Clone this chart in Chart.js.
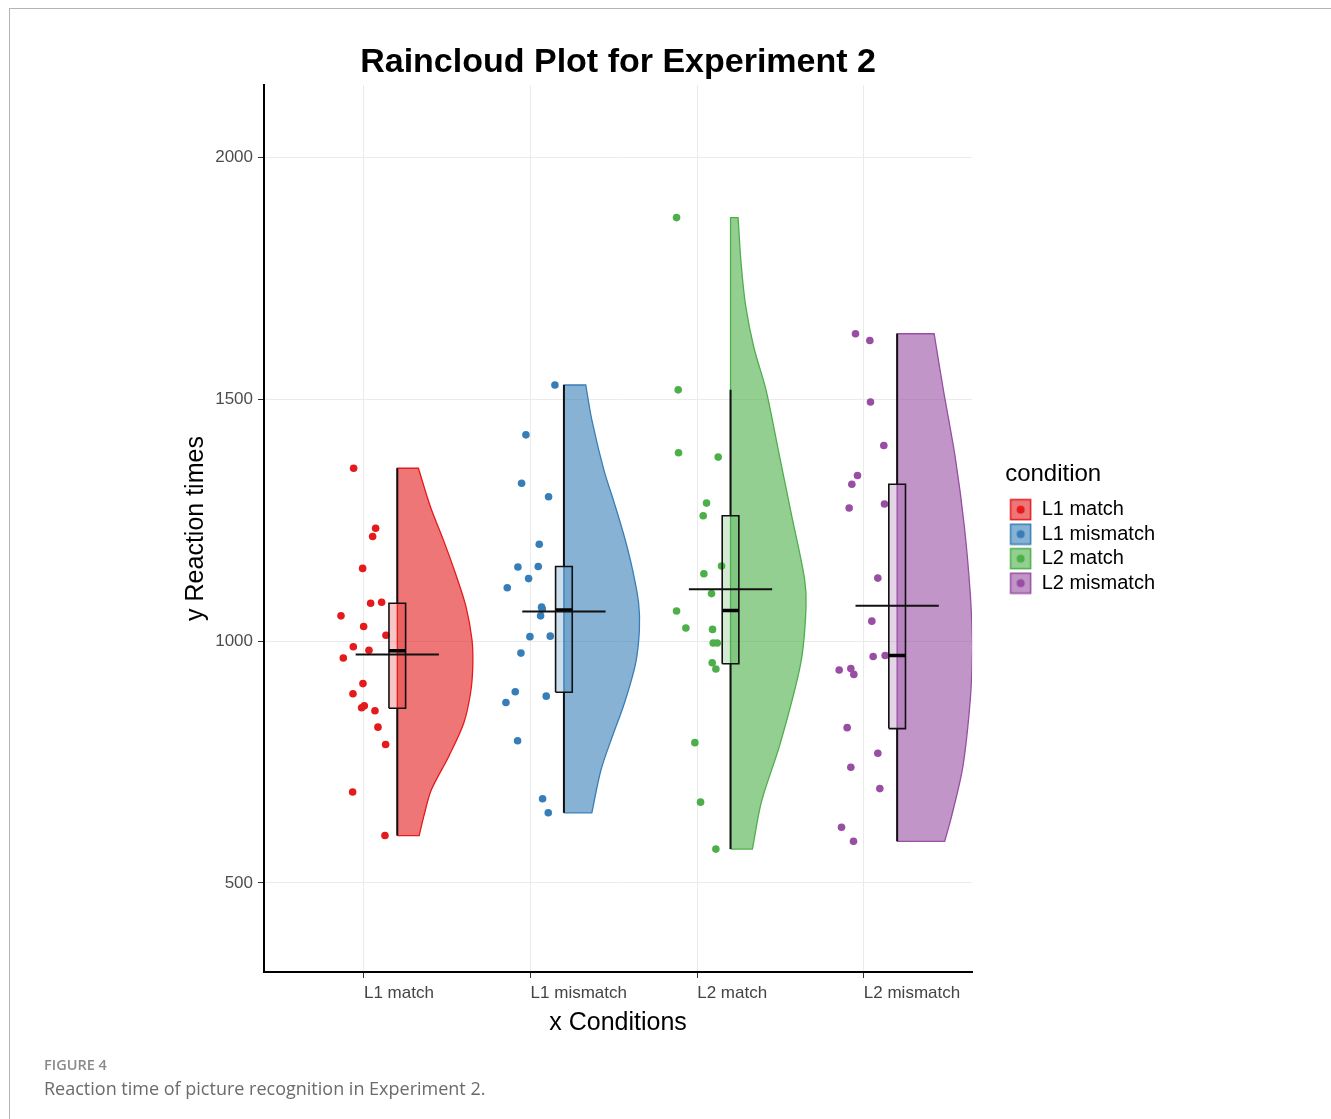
<!DOCTYPE html>
<html>
<head>
<meta charset="utf-8">
<title>Raincloud Plot for Experiment 2</title>
<script src="https://cdn.jsdelivr.net/npm/chart.js@4.4.1/dist/chart.umd.min.js"></script>
<style>
  html, body { margin: 0; padding: 0; background: #fff; }
  body { width: 1331px; height: 1119px; position: relative; overflow: hidden; }
  #wrap { position: absolute; left: 0; top: 0; width: 1331px; height: 1045px; }
  .frame { position: absolute; left: 9px; top: 8px; right: -4px; bottom: -4px;
           border-top: 1.5px solid #b4b4b4; border-left: 1.5px solid #b4b4b4; pointer-events: none; }
  .caption { position: absolute; left: 44px; top: 1054px; font-family: "Open Sans", "Noto Sans", sans-serif; }
  .fig-label { font-size: 14.5px; font-weight: 600; color: #8a8a8a; line-height: 21px; }
  .fig-text { font-size: 18px; color: #6b6b6b; line-height: 26px; }
</style>
</head>
<body>
<div id="wrap"><canvas id="raincloudChart" width="1331" height="1045"></canvas></div>
<div class="frame"></div>
<div class="caption">
  <div class="fig-label">FIGURE 4</div>
  <div class="fig-text">Reaction time of picture recognition in Experiment 2.</div>
</div>
<script>
  // Categories and colours
  const conditions = ['L1 match', 'L1 mismatch', 'L2 match', 'L2 mismatch'];
  const colors = ['#E41A1C', '#377EB8', '#4DAF4A', '#984EA3'];
  const yTicks = [500, 1000, 1500, 2000];

  // Raw reaction times (ms) and their horizontal jitter (category units)
  const l1MatchRT = [1357, 1233, 1216, 1150, 1078, 1080, 1052, 1030, 1012, 988, 981, 965, 912, 891, 862, 866, 856, 822, 786, 688, 598];
  const l1MatchJitter = [-0.062, 0.070, 0.052, -0.008, 0.040, 0.106, -0.138, -0.002, 0.132, -0.064, 0.030, -0.124, -0.006, -0.066, -0.014, 0.002, 0.066, 0.084, 0.130, -0.068, 0.126];
  const l1MismatchRT = [1529, 1426, 1326, 1298, 1200, 1153, 1154, 1129, 1110, 1070, 1066, 1052, 1009, 1010, 975, 895, 886, 873, 794, 674, 645];
  const l1MismatchJitter = [0.146, -0.028, -0.054, 0.108, 0.052, -0.076, 0.046, -0.012, -0.140, 0.066, 0.070, 0.060, -0.004, 0.118, -0.058, -0.092, 0.094, -0.148, -0.078, 0.072, 0.106];
  const l2MatchRT = [1875, 1519, 1389, 1380, 1285, 1259, 1155, 1139, 1098, 1062, 1027, 1024, 996, 996, 955, 942, 790, 667, 570];
  const l2MatchJitter = [-0.124, -0.114, -0.112, 0.126, 0.056, 0.036, 0.146, 0.040, 0.086, -0.124, -0.068, 0.092, 0.096, 0.120, 0.090, 0.112, -0.014, 0.020, 0.112];
  const l2MismatchRT = [1635, 1621, 1494, 1404, 1342, 1324, 1283, 1275, 1130, 1041, 968, 970, 940, 943, 931, 821, 768, 739, 695, 615, 586];
  const l2MismatchJitter = [-0.050, 0.036, 0.040, 0.120, -0.038, -0.072, 0.124, -0.088, 0.084, 0.048, 0.056, 0.128, -0.148, -0.078, -0.060, -0.100, 0.084, -0.078, 0.096, -0.134, -0.062];

  // Box plot summaries
  const q1 = [861, 894, 953, 819];
  const medians = [980, 1064, 1063, 970];
  const q3 = [1078, 1154, 1259, 1324];
  const means = [972, 1061, 1107, 1073];
  const whiskerLow = [598, 645, 570, 586];
  const whiskerHigh = [1357, 1529, 1519, 1635];

  // Half-violin density profiles (levels top -> bottom, density scaled to max 1)
  const l1MatchLevels = [1357, 1277, 1209, 1140, 1071, 1002, 947, 892, 830, 761, 692, 637, 598];
  const l1MatchDensity = [0.28, 0.44, 0.61, 0.77, 0.91, 0.99, 1.0, 0.97, 0.88, 0.68, 0.45, 0.35, 0.29];
  const l1MismatchLevels = [1529, 1457, 1353, 1284, 1216, 1147, 1078, 1023, 954, 871, 802, 733, 645];
  const l1MismatchDensity = [0.29, 0.37, 0.53, 0.67, 0.80, 0.91, 0.99, 1.0, 0.95, 0.80, 0.64, 0.49, 0.37];
  const l2MatchLevels = [1875, 1780, 1693, 1606, 1519, 1389, 1259, 1129, 1068, 954, 789, 668, 570];
  const l2MatchDensity = [0.10, 0.14, 0.20, 0.31, 0.47, 0.64, 0.81, 0.98, 1.0, 0.93, 0.66, 0.41, 0.29];
  const l2MismatchLevels = [1635, 1521, 1379, 1237, 1095, 988, 881, 740, 637, 586];
  const l2MismatchDensity = [0.49, 0.61, 0.77, 0.89, 0.97, 1.0, 0.97, 0.87, 0.72, 0.63];

  const rawRT = [l1MatchRT, l1MismatchRT, l2MatchRT, l2MismatchRT];
  const jitter = [l1MatchJitter, l1MismatchJitter, l2MatchJitter, l2MismatchJitter];
  const violinLevels = [l1MatchLevels, l1MismatchLevels, l2MatchLevels, l2MismatchLevels];
  const violinDensity = [l1MatchDensity, l1MismatchDensity, l2MatchDensity, l2MismatchDensity];

  // geometry (category units)
  const boxShift = 0.2, boxHalf = 0.05, meanHalf = 0.25, violinWidth = 0.453;
  const FONT = "'Liberation Sans', Arial, sans-serif";

  function rgba(hex, a) {
    const n = parseInt(hex.slice(1), 16);
    return `rgba(${n >> 16}, ${(n >> 8) & 255}, ${n & 255}, ${a})`;
  }

  // closed outline: flat left edge at cx, density curve on the right
  function violinShape(cx, levels, dens) {
    const last = levels.length - 1;
    const pts = [{x: cx, y: levels[last]}, {x: cx, y: levels[last]}];
    for (let k = last; k >= 0; k--) {
      const p = {x: cx + dens[k] * violinWidth, y: levels[k]};
      pts.push(p);
      if (k === last || k === 0) pts.push({x: p.x, y: p.y});
    }
    pts.push({x: cx, y: levels[0]}, {x: cx, y: levels[0]}, {x: cx, y: levels[last]});
    return pts;
  }

  function legendKey(color) {
    const c = document.createElement('canvas');
    c.width = 23; c.height = 23;
    const g = c.getContext('2d');
    g.fillStyle = rgba(color, 0.6);
    g.fillRect(1, 1, 21, 21);
    g.strokeStyle = color;
    g.lineWidth = 1.5;
    g.strokeRect(1.5, 1.5, 20, 20);
    g.beginPath();
    g.arc(11.5, 11.5, 4, 0, Math.PI * 2);
    g.fillStyle = color;
    g.fill();
    return c;
  }

  const datasets = [];
  conditions.forEach((name, i) => {
    const pos = i + 1, cx = pos + boxShift, col = colors[i];
    const base = {type: 'line', xAxisID: 'x', yAxisID: 'y', pointRadius: 0, tension: 0};
    datasets.push({...base, label: name + ' violin', data: violinShape(cx, violinLevels[i], violinDensity[i]),
      fill: 'shape', backgroundColor: rgba(col, 0.6), borderColor: col, borderWidth: 1.3, tension: 0.3, order: 10});
    datasets.push({type: 'scatter', xAxisID: 'x', yAxisID: 'y', label: name,
      data: rawRT[i].map((v, k) => ({x: pos + jitter[i][k], y: v})),
      pointRadius: 3.8, pointBackgroundColor: col, pointBorderWidth: 0, order: 8});
    datasets.push({...base, label: name + ' box', data: [
        {x: cx - boxHalf, y: q1[i]}, {x: cx + boxHalf, y: q1[i]}, {x: cx + boxHalf, y: q3[i]},
        {x: cx - boxHalf, y: q3[i]}, {x: cx - boxHalf, y: q1[i]}],
      fill: 'shape', backgroundColor: rgba(col, 0.25), borderColor: '#111', borderWidth: 1.6, order: 6});
    datasets.push({...base, label: name + ' whiskers', data: [
        {x: cx, y: whiskerLow[i]}, {x: cx, y: q1[i]}, {x: cx, y: null}, {x: cx, y: q3[i]}, {x: cx, y: whiskerHigh[i]}],
      borderColor: '#111', borderWidth: 2, fill: false, order: 5});
    datasets.push({...base, label: name + ' median', data: [{x: cx - boxHalf, y: medians[i]}, {x: cx + boxHalf, y: medians[i]}],
      borderColor: '#000', borderWidth: 3.5, fill: false, order: 4});
    datasets.push({...base, label: name + ' mean', data: [{x: cx - meanHalf, y: means[i]}, {x: cx + meanHalf, y: means[i]}],
      borderColor: '#111', borderWidth: 2, fill: false, order: 3});
  });

  new Chart(document.getElementById('raincloudChart'), {
    type: 'scatter',
    data: {datasets},
    options: {
      responsive: false,
      animation: false,
      layout: {padding: {left: 177, right: 166, top: 0, bottom: 3}},
      plugins: {
        tooltip: {enabled: false},
        title: {
          display: true,
          text: 'Raincloud Plot for Experiment 2',
          color: '#000',
          fullSize: false,
          font: {family: FONT, size: 34, weight: 'bold'},
          padding: {top: 42.6, bottom: 1.6}
        },
        legend: {
          position: 'right',
          align: 'center',
          onClick: null,
          title: {display: true, text: 'condition', color: '#000', position: 'start',
                  font: {family: FONT, size: 24}, padding: {top: 18, bottom: 4}},
          labels: {
            usePointStyle: true,
            pointStyleWidth: 22,
            padding: 4.5,
            color: '#000',
            font: {family: FONT, size: 20},
            generateLabels: () => conditions.map((c, i) => ({
              text: c, pointStyle: legendKey(colors[i]), fillStyle: colors[i],
              strokeStyle: colors[i], lineWidth: 0, hidden: false, datasetIndex: i * 6 + 1
            }))
          }
        }
      },
      scales: {
        x: {
          type: 'linear',
          min: 0.4,
          max: 4.65,
          afterBuildTicks: s => { s.ticks = conditions.map((c, i) => ({value: i + 1})); },
          afterFit: s => { s.height = 70; },
          ticks: {align: 'start', padding: 5, color: '#444', font: {family: FONT, size: 17},
                  callback: (v, i) => conditions[i]},
          grid: {color: '#ebebeb', tickColor: '#333', tickLength: 6},
          border: {color: '#000', width: 2},
          title: {display: true, text: 'x Conditions', color: '#000', font: {family: FONT, size: 25},
                  padding: {top: 4, bottom: 4}}
        },
        y: {
          type: 'linear',
          min: 316,
          max: 2149,
          afterBuildTicks: s => { s.ticks = yTicks.map(v => ({value: v})); },
          afterFit: s => { s.width = 87; },
          ticks: {padding: 5, color: '#4d4d4d', font: {family: FONT, size: 17}, callback: v => String(v)},
          grid: {color: '#ebebeb', tickColor: '#333', tickLength: 6},
          border: {color: '#000', width: 2},
          title: {display: true, text: 'y Reaction times', color: '#000', font: {family: FONT, size: 25},
                  padding: {top: 4, bottom: 4}}
        },
        gap: {
          type: 'linear',
          position: 'right',
          grid: {display: false, drawTicks: false},
          border: {display: false},
          ticks: {display: false},
          afterFit: s => { s.width = 33; }
        }
      }
    }
  });
</script>
</body>
</html>
